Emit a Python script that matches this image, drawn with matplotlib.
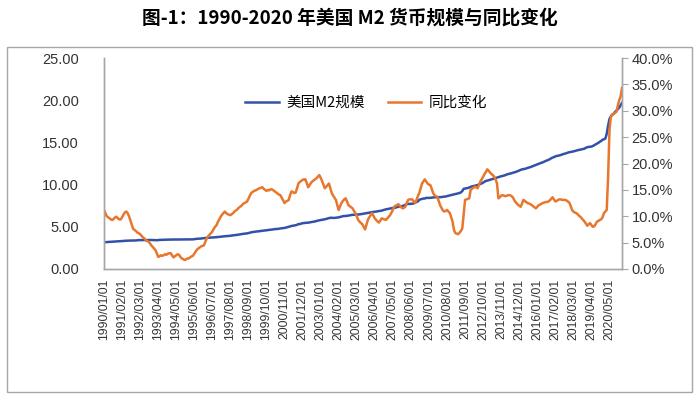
import matplotlib
matplotlib.use('Agg')
import matplotlib.pyplot as plt
from matplotlib.patches import Rectangle
import pandas as pd

plt.rcParams['font.family'] = ['Liberation Sans', 'Noto Sans CJK SC', 'DejaVu Sans']

# monthly categories 1990/01 .. 2021/02
months = pd.date_range('1990-01-01', periods=374, freq='MS')
date_labels = [d.strftime('%Y/%m/%d') for d in months]

# US M2 (trillion USD), one row per year
m2 = [
    3.17, 3.18, 3.19, 3.20, 3.20, 3.21, 3.22, 3.24, 3.26, 3.26, 3.27, 3.28,
    3.29, 3.31, 3.33, 3.34, 3.35, 3.36, 3.37, 3.37, 3.37, 3.38, 3.38, 3.38,
    3.40, 3.42, 3.42, 3.42, 3.42, 3.41, 3.41, 3.42, 3.43, 3.44, 3.44, 3.43,
    3.42, 3.41, 3.41, 3.42, 3.45, 3.45, 3.46, 3.46, 3.47, 3.47, 3.48, 3.48,
    3.49, 3.49, 3.49, 3.50, 3.50, 3.49, 3.50, 3.50, 3.50, 3.50, 3.50, 3.50,
    3.49, 3.49, 3.49, 3.50, 3.51, 3.54, 3.56, 3.58, 3.59, 3.60, 3.61, 3.64,
    3.65, 3.67, 3.69, 3.70, 3.71, 3.72, 3.73, 3.74, 3.75, 3.77, 3.79, 3.82,
    3.83, 3.84, 3.86, 3.88, 3.89, 3.90, 3.92, 3.94, 3.96, 3.98, 4.00, 4.03,
    4.05, 4.08, 4.11, 4.14, 4.16, 4.18, 4.20, 4.22, 4.26, 4.30, 4.34, 4.38,
    4.40, 4.42, 4.43, 4.46, 4.48, 4.50, 4.52, 4.54, 4.56, 4.58, 4.61, 4.64,
    4.66, 4.67, 4.70, 4.73, 4.73, 4.75, 4.77, 4.80, 4.83, 4.84, 4.86, 4.91,
    4.96, 5.00, 5.04, 5.10, 5.12, 5.16, 5.20, 5.23, 5.33, 5.32, 5.37, 5.43,
    5.44, 5.47, 5.48, 5.49, 5.52, 5.54, 5.58, 5.62, 5.64, 5.69, 5.73, 5.77,
    5.80, 5.83, 5.85, 5.89, 5.94, 5.98, 6.03, 6.07, 6.06, 6.05, 6.05, 6.07,
    6.09, 6.12, 6.16, 6.21, 6.26, 6.27, 6.28, 6.30, 6.33, 6.36, 6.39, 6.42,
    6.42, 6.43, 6.45, 6.46, 6.47, 6.50, 6.52, 6.55, 6.58, 6.61, 6.64, 6.68,
    6.72, 6.74, 6.76, 6.79, 6.80, 6.84, 6.86, 6.89, 6.92, 6.97, 7.01, 7.07,
    7.10, 7.13, 7.16, 7.21, 7.23, 7.25, 7.27, 7.34, 7.38, 7.41, 7.43, 7.47,
    7.52, 7.62, 7.68, 7.71, 7.71, 7.72, 7.75, 7.76, 7.85, 7.95, 8.00, 8.19,
    8.27, 8.29, 8.35, 8.35, 8.42, 8.43, 8.42, 8.43, 8.45, 8.48, 8.50, 8.50,
    8.48, 8.51, 8.52, 8.51, 8.56, 8.58, 8.59, 8.64, 8.68, 8.72, 8.75, 8.81,
    8.84, 8.87, 8.91, 8.96, 9.00, 9.08, 9.24, 9.50, 9.53, 9.57, 9.60, 9.65,
    9.74, 9.78, 9.82, 9.86, 9.91, 9.95, 10.02, 10.07, 10.14, 10.24, 10.33, 10.44,
    10.47, 10.52, 10.56, 10.61, 10.66, 10.71, 10.78, 10.83, 10.88, 10.94, 10.98, 11.02,
    11.07, 11.12, 11.20, 11.24, 11.28, 11.33, 11.38, 11.44, 11.48, 11.53, 11.60, 11.66,
    11.75, 11.81, 11.83, 11.87, 11.91, 11.98, 12.02, 12.07, 12.13, 12.20, 12.27, 12.33,
    12.39, 12.46, 12.53, 12.59, 12.64, 12.72, 12.80, 12.86, 12.94, 13.01, 13.12, 13.20,
    13.26, 13.34, 13.39, 13.42, 13.46, 13.52, 13.57, 13.63, 13.67, 13.73, 13.78, 13.84,
    13.86, 13.89, 13.94, 13.97, 14.03, 14.07, 14.12, 14.16, 14.19, 14.22, 14.26, 14.37,
    14.42, 14.47, 14.48, 14.51, 14.57, 14.67, 14.77, 14.86, 14.95, 15.08, 15.17, 15.32,
    15.37, 15.45, 16.02, 17.00, 17.79, 18.09, 18.30, 18.37, 18.62, 18.77, 18.94, 19.13,
    19.40, 19.68,
]

# year-on-year change (%), one row per year
yoy = [
    11.2, 10.6, 10.0, 9.8, 9.6, 9.4, 9.3, 9.5, 9.8, 9.9, 9.6, 9.4,
    9.4, 9.8, 10.3, 10.7, 10.9, 10.6, 10.0, 9.2, 8.4, 7.6, 7.4, 7.2,
    6.9, 6.8, 6.6, 6.3, 6.0, 5.8, 5.5, 5.3, 5.2, 4.9, 4.5, 4.2,
    3.9, 3.6, 3.0, 2.3, 2.4, 2.6, 2.5, 2.6, 2.8, 2.7, 2.9, 3.0,
    3.0, 2.6, 2.2, 2.4, 2.6, 2.8, 2.7, 2.3, 2.0, 1.9, 1.7, 1.8,
    2.0, 2.0, 2.2, 2.4, 2.5, 2.9, 3.3, 3.7, 3.9, 4.1, 4.3, 4.4,
    4.5, 5.2, 5.8, 6.2, 6.5, 6.8, 7.1, 7.6, 8.0, 8.3, 8.9, 9.4,
    9.9, 10.3, 10.6, 10.9, 10.6, 10.4, 10.3, 10.2, 10.4, 10.6, 10.9, 11.1,
    11.3, 11.6, 11.8, 12.0, 12.3, 12.5, 12.6, 12.8, 13.3, 13.9, 14.4, 14.6,
    14.8, 14.9, 15.0, 15.2, 15.3, 15.4, 15.5, 15.2, 15.0, 14.8, 15.0, 14.9,
    15.1, 15.1, 14.9, 14.7, 14.5, 14.3, 14.1, 14.0, 13.5, 13.0, 12.5, 12.8,
    12.9, 13.1, 14.0, 14.7, 14.6, 14.4, 14.5, 15.3, 16.2, 16.5, 16.7, 16.9,
    17.0, 17.0, 16.3, 15.5, 15.9, 16.3, 16.6, 16.8, 17.0, 17.2, 17.5, 17.8,
    17.3, 16.7, 16.0, 15.3, 15.6, 15.9, 16.2, 15.3, 14.4, 13.9, 13.5, 13.1,
    12.1, 11.2, 11.9, 12.5, 12.9, 13.2, 13.4, 12.8, 12.1, 11.9, 11.7, 11.5,
    11.0, 10.6, 10.0, 9.3, 9.0, 8.7, 8.5, 8.0, 7.5, 8.4, 9.3, 9.8,
    10.2, 10.6, 10.1, 9.6, 9.3, 9.0, 8.8, 9.2, 9.6, 9.5, 9.4, 9.3,
    9.6, 9.9, 10.2, 10.7, 11.2, 11.8, 12.0, 12.1, 12.3, 12.0, 11.7, 11.5,
    11.6, 11.8, 12.5, 13.1, 13.2, 13.2, 13.2, 12.8, 12.5, 13.1, 13.8, 14.4,
    15.3, 16.2, 16.6, 17.0, 16.6, 16.2, 16.0, 15.9, 15.2, 14.4, 14.0, 13.8,
    13.7, 12.9, 12.1, 11.6, 11.1, 10.9, 11.0, 11.2, 10.9, 10.6, 9.8, 9.0,
    7.4, 6.8, 6.7, 6.6, 6.9, 7.2, 7.7, 10.5, 13.1, 13.2, 13.3, 13.4,
    15.0, 15.2, 15.4, 15.6, 15.5, 15.3, 15.9, 16.6, 17.0, 17.5, 18.0, 18.4,
    18.9, 18.6, 18.3, 18.0, 17.8, 17.5, 17.0, 16.2, 13.4, 13.6, 13.9, 14.0,
    13.9, 13.8, 13.9, 14.0, 14.0, 13.9, 13.7, 13.3, 12.8, 12.5, 12.2, 12.0,
    11.8, 12.4, 13.1, 12.9, 12.7, 12.5, 12.4, 12.3, 12.1, 11.9, 11.7, 11.5,
    11.8, 12.1, 12.2, 12.4, 12.5, 12.6, 12.7, 12.7, 12.8, 13.0, 13.3, 13.6,
    13.2, 12.8, 12.9, 13.1, 13.2, 13.2, 13.1, 13.1, 13.1, 13.0, 12.8, 12.6,
    12.0, 11.2, 10.9, 10.7, 10.6, 10.4, 10.1, 9.9, 9.6, 9.3, 9.0, 8.6,
    8.2, 8.5, 8.7, 8.3, 8.0, 8.1, 8.5, 9.0, 9.1, 9.3, 9.4, 9.8,
    10.6, 10.9, 11.2, 17.5, 26.4, 28.9, 29.2, 29.5, 29.6, 29.8, 31.0, 32.0,
    32.7, 34.3,
]

blue = '#3152a8'
orange = '#e8772e'
grey = '#a6a6a6'

fig = plt.figure(figsize=(7, 3.99), dpi=100)
ax = fig.add_axes([104/700, 1-269/399, 518/700, 211/399])
ax2 = ax.twinx()

x = list(range(len(m2)))
l1, = ax.plot(x, m2, color=blue, lw=1.8, label='美国M2规模')
l2, = ax2.plot(x, yoy, color=orange, lw=1.8, label='同比变化')

ax.set_xlim(0, len(m2) - 1)
ax.set_ylim(0, 25)
ax.set_yticks([0, 5, 10, 15, 20, 25])
ax.set_yticklabels([f'{v:.2f}' for v in [0, 5, 10, 15, 20, 25]])
ax2.set_ylim(0, 40)
pct = [0, 5, 10, 15, 20, 25, 30, 35, 40]
ax2.set_yticks(pct)
ax2.set_yticklabels([f'{v:.1f}%' for v in pct])

tick_pos = list(range(0, len(m2), 13))
ax.set_xticks(tick_pos)
ax.set_xticklabels([date_labels[i] for i in tick_pos], rotation=90, fontsize=8.8, color='#333333')

ax.tick_params(axis='y', length=0, labelsize=10.5, labelcolor='#333333', pad=18)
ax.tick_params(axis='x', length=0, pad=7)
ax2.tick_params(axis='y', length=4, color=grey, labelsize=10.5, labelcolor='#333333', pad=3)

for a in (ax, ax2):
    a.spines['top'].set_visible(False)
    for s in ('left', 'right', 'bottom'):
        a.spines[s].set_color(grey)
        a.spines[s].set_linewidth(1)

ax2.legend([l1, l2], ['美国M2规模', '同比变化'], loc='center', bbox_to_anchor=(0.506, 0.787),
           ncol=2, frameon=False, handlelength=2.3, columnspacing=1.6, handletextpad=0.5,
           prop={'family': ['Noto Sans CJK SC', 'DejaVu Sans'], 'size': 10.5})

fig.text(0.5, 0.955, '图-1：1990-2020 年美国 M2 货币规模与同比变化', ha='center', va='center',
         fontsize=13.5, fontweight='bold', family=['Noto Sans CJK SC', 'DejaVu Sans'])

fig.add_artist(Rectangle((7/700, 1-392/399), 685/700, 345/399, transform=fig.transFigure,
                         fill=False, edgecolor=grey, lw=1))

fig.savefig('out.png', dpi=100)
